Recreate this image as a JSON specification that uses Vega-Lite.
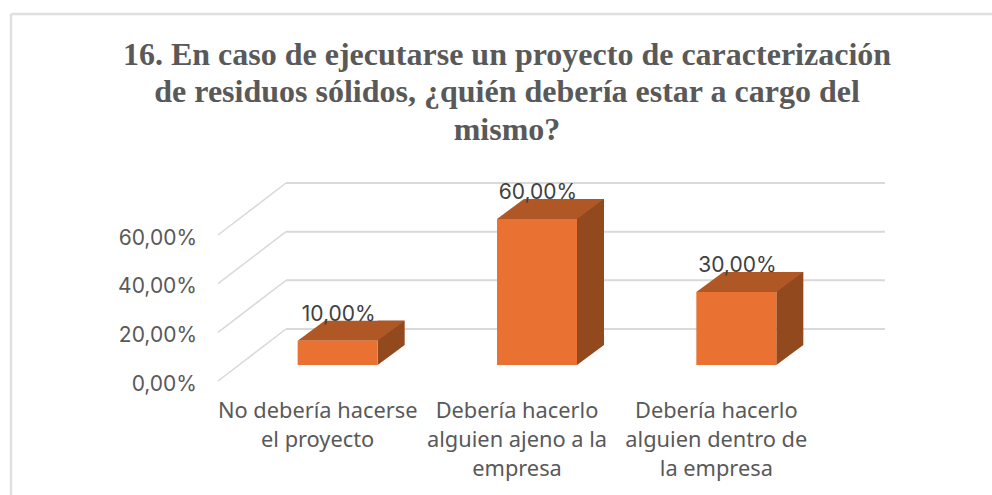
{
"$schema":"https://vega.github.io/schema/vega-lite/v6.json",
"width":598,"height":146,
"autosize":{"type":"none"},
"padding":{"left":218,"top":235,"right":176,"bottom":114},
"background":"white",
"view":{"stroke":null},
"title":{"text":["16. En caso de ejecutarse un proyecto de caracterización","de residuos sólidos, ¿quién debería estar a cargo del","mismo?"],"font":"Liberation Serif","fontSize":32,"fontWeight":"bold","color":"#595959","anchor":"middle","frame":"group","dx":-10,"lineHeight":37.5,"baseline":"alphabetic","offset":-159},
"datasets":{
"bars":[
{"categoria":"No debería hacerse el proyecto","valor":10,"etiqueta":"10,00%"},
{"categoria":"Debería hacerlo alguien ajeno a la empresa","valor":60,"etiqueta":"60,00%"},
{"categoria":"Debería hacerlo alguien dentro de la empresa","valor":30,"etiqueta":"30,00%"}],
"ticks":[{"tick":0},{"tick":20},{"tick":40},{"tick":60}],
"one":[{"k":1}]
},
"encoding":{},
"layer":[
{"data":{"name":"one"},"mark":{"type":"rule","color":"#E0E0E0","strokeWidth":2.5},"encoding":{"x":{"value":-207},"x2":{"value":800},"y":{"value":-221}}},
{"data":{"name":"one"},"mark":{"type":"rule","color":"#E0E0E0","strokeWidth":2.5},"encoding":{"x":{"value":-207},"y":{"value":-221},"y2":{"value":270}}},
{"data":{"name":"ticks"},"mark":{"type":"rule","color":"#D9D9D9","strokeWidth":1.5,"y2Offset":-52},"encoding":{"x":{"value":0},"x2":{"value":68},"y":{"field":"tick","type":"quantitative","scale":{"domain":[0,60],"nice":false},"axis":{"values":[0,20,40,60],"title":null,"domain":false,"ticks":false,"grid":false,"labelPadding":21.5,"labelOffset":3,"labelFont":"Inter","labelFontSize":21,"labelColor":"#595959","labelExpr":"replace(format(datum.value,'.2f'),'.',',')+'%'"}},"y2":{"field":"tick"}}},
{"data":{"name":"ticks"},"mark":{"type":"rule","color":"#D9D9D9","strokeWidth":2,"yOffset":-52},"encoding":{"x":{"value":68},"x2":{"value":667},"y":{"field":"tick","type":"quantitative"}}},
{"data":{"name":"bars"},"mark":{"type":"bar","color":"#92491E","size":27,"xOffset":73.5,"x2Offset":73.5,"yOffset":-36,"y2Offset":-36},"encoding":{"x":{"field":"categoria","type":"nominal","sort":null,"scale":{"paddingInner":0,"paddingOuter":0},"axis":{"title":null,"domain":false,"ticks":false,"labelAngle":0,"labelPadding":36,"labelFont":"Noto Sans","labelFontSize":21.8,"labelColor":"#595959","labelLimit":0,"labelLineHeight":29,"labelBaseline":"alphabetic","labelExpr":"{'No debería hacerse el proyecto':['No debería hacerse','el proyecto'],'Debería hacerlo alguien ajeno a la empresa':['Debería hacerlo','alguien ajeno a la','empresa'],'Debería hacerlo alguien dentro de la empresa':['Debería hacerlo','alguien dentro de','la empresa']}[datum.value]"}},"y":{"field":"valor","type":"quantitative"},"y2":{"datum":0}}},
{"data":{"name":"bars"},"mark":{"type":"point","shape":"M40,0L40,-20L67,-20Z","size":4,"filled":true,"fill":"#92491E","opacity":1,"strokeWidth":0,"xOffset":20,"yOffset":-16},"encoding":{"x":{"field":"categoria","type":"nominal","sort":null},"y":{"datum":0,"type":"quantitative"}}},
{"data":{"name":"bars"},"mark":{"type":"point","shape":"M-40,0L40,0L67,-20L-13,-20Z","size":4,"filled":true,"fill":"#B05825","opacity":1,"strokeWidth":0,"xOffset":20,"yOffset":-16},"encoding":{"x":{"field":"categoria","type":"nominal","sort":null},"y":{"field":"valor","type":"quantitative"}}},
{"data":{"name":"bars"},"mark":{"type":"bar","color":"#E97132","size":80,"xOffset":20,"x2Offset":20,"yOffset":-16,"y2Offset":-16},"encoding":{"x":{"field":"categoria","type":"nominal","sort":null},"y":{"field":"valor","type":"quantitative"},"y2":{"datum":0}}},
{"data":{"name":"bars"},"mark":{"type":"text","font":"Inter","fontSize":21,"color":"#404040","baseline":"middle","xOffset":21,"yOffset":-42},"encoding":{"x":{"field":"categoria","type":"nominal","sort":null},"y":{"field":"valor","type":"quantitative"},"text":{"field":"etiqueta"}}}
],
"config":{"style":{"cell":{"stroke":null}}}
}
